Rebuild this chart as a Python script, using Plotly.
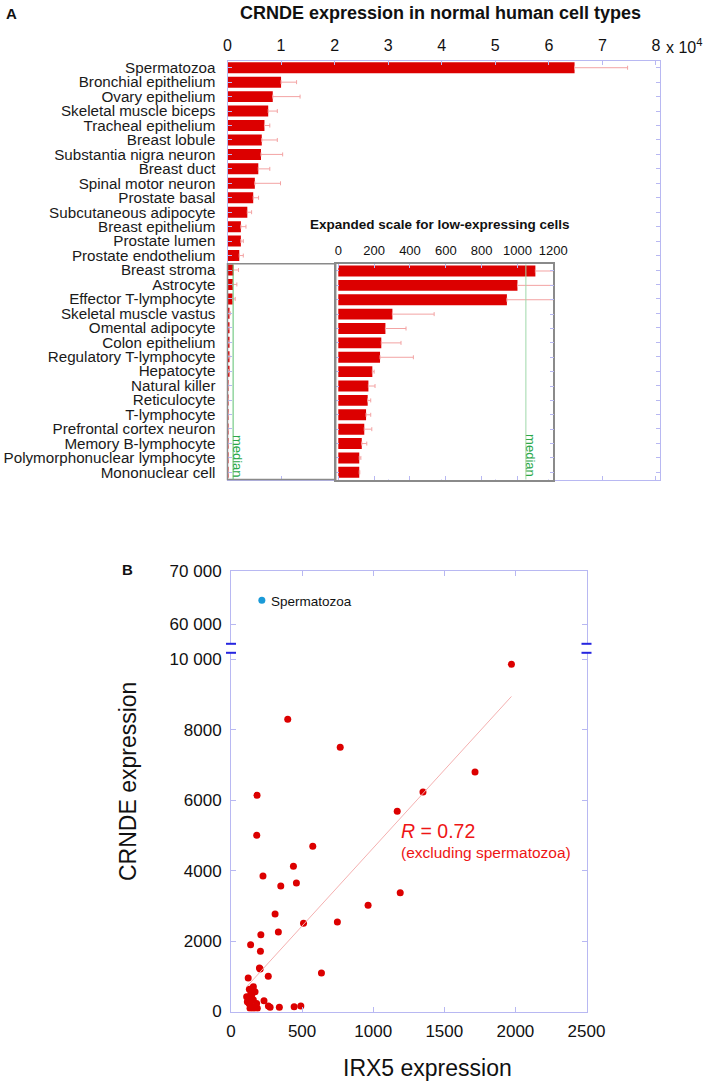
import plotly.graph_objects as go

# ---------------- Data ----------------
cell_types = [
    "Spermatozoa", "Bronchial epithelium", "Ovary epithelium", "Skeletal muscle biceps",
    "Tracheal epithelium", "Breast lobule", "Substantia nigra neuron", "Breast duct",
    "Spinal motor neuron", "Prostate basal", "Subcutaneous adipocyte", "Breast epithelium",
    "Prostate lumen", "Prostate endothelium", "Breast stroma", "Astrocyte",
    "Effector T-lymphocyte", "Skeletal muscle vastus", "Omental adipocyte", "Colon epithelium",
    "Regulatory T-lymphocyte", "Hepatocyte", "Natural killer", "Reticulocyte",
    "T-lymphocyte", "Prefrontal cortex neuron", "Memory B-lymphocyte",
    "Polymorphonuclear lymphocyte", "Mononuclear cell",
]
crnde_mean = [64800, 10000, 8450, 7600, 6900, 6400, 6250, 5750, 5100, 4800, 3700, 2500,
              2500, 2200, 1100, 1000, 941, 302, 263, 240, 233, 190, 168, 164, 155, 145,
              131, 117, 117]
crnde_upper = [74700, 12900, 13550, 9300, 7900, 9300, 10300, 7900, 9900, 5800, 4500, 3450,
               2950, 2950, 2050, 1750, 1440, 535, 378, 350, 419, 200, 205, 181, 181, 187,
               159, 126, 120]
n_low = 15                      # cells shown in the expanded-scale inset
median_expr = 1047

main_ticks = [0, 10000, 20000, 30000, 40000, 50000, 60000, 70000, 80000]
main_ticktext = ["0", "1", "2", "3", "4", "5", "6", "7", "8"]
inset_ticks = [0, 200, 400, 600, 800, 1000, 1200]

# scatter (IRX5 vs CRNDE), excluding spermatozoa
irx5 = [1972, 399, 768, 1716, 1350, 183, 1169, 181, 575, 439, 225, 350, 460, 1190,
        964, 310, 510, 748, 333, 210, 138, 207, 200, 205, 262, 636, 121,
        157, 129, 169, 146, 122, 157, 115, 134, 169, 185, 232, 263, 275, 340, 444, 491,
        110, 146, 180, 134, 157, 140, 125]
crnde = [9864, 8300, 7505, 6804, 6236, 6142, 5687, 5005, 4693, 4125, 3850, 3565, 3650, 3375,
         3019, 2771, 2505, 2543, 2257, 2181, 1895, 1714, 1238, 1210, 1000, 1095, 952,
         705, 631, 563, 469, 375, 327, 278, 185, 136, 91, 307, 156, 119, 119, 136, 156,
         420, 610, 230, 90, 90, 520, 240]
sperm_irx5 = [217]
sperm_crnde = [64500]
fit_slope = 4.43
fit_intercept = 215
r_value = "0.72"

lower_yticks = [0, 2000, 4000, 6000, 8000, 10000]
lower_yticktext = ["0", "2000", "4000", "6000", "8000", "10 000"]
upper_yticks = [60000, 70000]
upper_yticktext = ["60 000", "70 000"]
x_ticks = [0, 500, 1000, 1500, 2000, 2500]

# ---------------- Styling helpers ----------------
W, H = 709, 1082
def px(p): return p / W
def py(p): return 1 - p / H

FONT = "Liberation Sans, Arial, sans-serif"
RED = "#dc0000"
ERR = "#f3a3a3"
FRAME = "#b8b8f2"
GRAY = "#8a8a8a"
GREEN = "#2aa84a"

fig = go.Figure()

# main bars
fig.add_trace(go.Bar(
    x=crnde_mean, y=cell_types, orientation="h", xaxis="x", yaxis="y",
    marker=dict(color=RED, line=dict(width=0)),
    error_x=dict(type="data", symmetric=False,
                 array=[u - m for u, m in zip(crnde_upper, crnde_mean)],
                 arrayminus=[0] * len(crnde_mean),
                 color=ERR, thickness=1, width=2),
    showlegend=False))

# inset bars
low_cells = cell_types[-n_low:]
low_mean = crnde_mean[-n_low:]
low_upper = crnde_upper[-n_low:]
fig.add_trace(go.Bar(
    x=low_mean, y=low_cells, orientation="h", xaxis="x2", yaxis="y2",
    marker=dict(color=RED, line=dict(width=0)),
    error_x=dict(type="data", symmetric=False,
                 array=[u - m for u, m in zip(low_upper, low_mean)],
                 arrayminus=[0] * n_low,
                 color=ERR, thickness=1, width=2),
    showlegend=False))

# scatter
fig.add_trace(go.Scatter(
    x=irx5, y=crnde, mode="markers", xaxis="x3", yaxis="y3",
    marker=dict(color=RED, size=7), showlegend=False))
fx = [min(irx5), max(irx5)]
fig.add_trace(go.Scatter(
    x=fx, y=[fit_slope * v + fit_intercept for v in fx], mode="lines",
    xaxis="x3", yaxis="y3", line=dict(color="#f4b0b0", width=1), showlegend=False))
fig.add_trace(go.Scatter(
    x=sperm_irx5, y=sperm_crnde, mode="markers", xaxis="x4", yaxis="y4",
    marker=dict(color="#1a9ad8", size=7), showlegend=False))

axis_common = dict(showgrid=False, zeroline=False, ticks="inside", ticklen=4,
                   tickcolor=FRAME, showline=True, linecolor=FRAME, linewidth=1,
                   mirror="ticks")

fig.update_layout(
    width=W, height=H, autosize=False,
    margin=dict(l=0, r=0, t=0, b=0, autoexpand=False),
    paper_bgcolor="white", plot_bgcolor="white",
    font=dict(family=FONT, color="#111111"),
    bargap=0.24,
    xaxis=dict(axis_common, domain=[px(227.5), px(660)], range=[0, 80750],
               anchor="y", side="top", tickvals=main_ticks, ticktext=main_ticktext,
               tickfont=dict(size=16), ticklabelstandoff=2),
    yaxis=dict(axis_common, domain=[py(479.5), py(60.5)], anchor="x",
               type="category", categoryarray=cell_types, autorange="reversed",
               tickmode="array", tickvals=cell_types, ticktext=cell_types,
               tickfont=dict(size=15.2, color="#1a1a1a"), ticklabelstandoff=8),
    xaxis2=dict(axis_common, domain=[px(335.7), px(553.3)], range=[-14.5, 1200],
                anchor="y2", side="top", tickvals=inset_ticks, linecolor=GRAY,
                linewidth=1.5, tickfont=dict(size=13), ticklabelstandoff=2),
    yaxis2=dict(axis_common, domain=[py(479.5), py(263.8)], anchor="x2",
                type="category", categoryarray=low_cells, autorange="reversed",
                tickmode="array", tickvals=low_cells,
                showticklabels=False, linecolor=GRAY, linewidth=1.5),
    xaxis3=dict(axis_common, domain=[px(231), px(586.5)], range=[0, 2500],
                anchor="y3", tickvals=x_ticks, mirror=False, ticklen=5,
                tickfont=dict(size=17), ticklabelstandoff=4),
    yaxis3=dict(axis_common, domain=[py(1011.5), py(652.5)], range=[0, 10200],
                anchor="x3", tickvals=lower_yticks, ticktext=lower_yticktext,
                ticklen=5, tickfont=dict(size=17), ticklabelstandoff=5),
    xaxis4=dict(axis_common, domain=[px(231), px(586.5)], matches="x3",
                anchor="y4", side="top", mirror=False, showticklabels=False,
                tickvals=x_ticks, ticklen=5),
    yaxis4=dict(axis_common, domain=[py(643.8), py(570.6)], range=[56380, 70000],
                anchor="x4", tickvals=upper_yticks, ticktext=upper_yticktext,
                ticklen=5, tickfont=dict(size=17), ticklabelstandoff=5),
)

shapes = []
# gray box linking main chart to inset
shapes.append(dict(type="rect", xref="paper", yref="paper",
                   x0=px(227.5), x1=px(335.7), y0=py(479.5), y1=py(263.8),
                   line=dict(color=GRAY, width=1.5), layer="above"))
# median lines
shapes.append(dict(type="line", xref="x", yref="paper", x0=median_expr, x1=median_expr,
                   y0=py(479.5), y1=py(264.5), line=dict(color="#5cc070", width=1)))
shapes.append(dict(type="line", xref="x2", yref="paper", x0=median_expr, x1=median_expr,
                   y0=py(479.5), y1=py(264.5), line=dict(color="#9fd8ab", width=1)))
# axis break marks
for bx in (231, 586.5):
    for by in (643.8, 652.8):
        shapes.append(dict(type="line", xref="paper", yref="paper",
                           x0=px(bx - 5), x1=px(bx + 5), y0=py(by), y1=py(by),
                           line=dict(color="#2525e0", width=2)))
fig.update_layout(shapes=shapes)

ann = []
def text(x, y, s, size, color="#111111", bold=False, xanchor="center", angle=0,
         xref="paper", xshift=0):
    ann.append(dict(x=x, y=py(y), xref=xref, yref="paper", text=("<b>%s</b>" % s) if bold else s,
                    showarrow=False, xanchor=xanchor, yanchor="middle", textangle=angle,
                    xshift=xshift, font=dict(family=FONT, size=size, color=color)))

text(px(11), 13, "A", 15, bold=True)
text(px(440), 13, "CRNDE expression in normal human cell types", 18, bold=True)
text(px(664), 46, "x 10<sup>4</sup>", 16, xanchor="left")
text(px(440), 225, "Expanded scale for low-expressing cells", 13.5, bold=True)
text(median_expr, 456, "median", 13, color=GREEN, angle=90, xref="x", xshift=5)
text(median_expr, 456, "median", 13, color=GREEN, angle=90, xref="x2", xshift=5)
text(px(127), 569, "B", 15, bold=True)
text(px(269), 601.5, "Spermatozoa", 13.5, xanchor="left")
text(px(399), 831, "<i>R</i> = " + r_value, 19.5, color="#ee1515", xanchor="left")
text(px(399), 852, "(excluding spermatozoa)", 15.5, color="#ee1515", xanchor="left")
text(px(428), 1068, "IRX5 expression", 23)
text(px(128), 782, "CRNDE expression", 23, angle=-90)
fig.update_layout(annotations=ann)

fig.write_html("out.html", config={"displayModeBar": False},
               post_script="document.body.style.margin='0';document.body.style.padding='0';")
